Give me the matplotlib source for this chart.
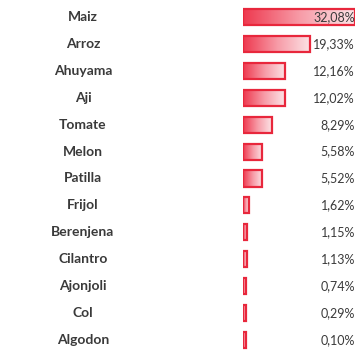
import numpy as np
import matplotlib.pyplot as plt
from matplotlib.colors import LinearSegmentedColormap

cultivos = ["Maiz", "Arroz", "Ahuyama", "Aji", "Tomate", "Melon", "Patilla",
            "Frijol", "Berenjena", "Cilantro", "Ajonjoli", "Col", "Algodon"]
porcentajes = [32.08, 19.33, 12.16, 12.02, 8.29, 5.58, 5.52,
               1.62, 1.15, 1.13, 0.74, 0.29, 0.10]
etiquetas = ["32,08%", "19,33%", "12,16%", "12,02%", "8,29%", "5,58%", "5,52%",
             "1,62%", "1,15%", "1,13%", "0,74%", "0,29%", "0,10%"]

W, H = 359, 351
fig = plt.figure(figsize=(W / 100, H / 100), dpi=100)
fig.patch.set_facecolor("white")

# axes spans the data-bar column: 0 at x=243px, max at x=355px
x0, x1 = 243, 355
y_top, y_bot = 17, 340
n = len(cultivos)
step = (y_bot - y_top) / (n - 1)
ax = fig.add_axes([x0 / W, (H - y_bot - step / 2) / H, (x1 - x0) / W, (y_bot - y_top + step) / H])
ax.axis("off")

cmap = LinearSegmentedColormap.from_list("databar", ["#ee3a50", "#f79aa6", "#fce3e6"])
grad = np.linspace(0, 1, 64).reshape(1, -1)
min_len = 0.8
bar_h = 0.6
for i, v in enumerate(porcentajes):
    w = max(v, min_len)
    ax.imshow(grad, cmap=cmap, aspect="auto", interpolation="bilinear",
              extent=(0, w, i + bar_h / 2, i - bar_h / 2), zorder=1)
    ax.barh(i, w, height=bar_h, facecolor="none", edgecolor="#e8273c",
            linewidth=1.6, zorder=2)
    ax.text(max(porcentajes), i, etiquetas[i], ha="right", va="center",
            fontsize=9, color="#3a3a3a", family="Lato", zorder=3)
    fig.text(83 / W, 1 - (y_top + i * step) / H, cultivos[i], ha="center", va="center",
             fontsize=10, fontweight="bold", color="#3a3a3a", family="Lato")

ax.set_xlim(0, max(porcentajes))
ax.set_ylim(n - 0.5, -0.5)
fig.savefig("out.png", dpi=100)
